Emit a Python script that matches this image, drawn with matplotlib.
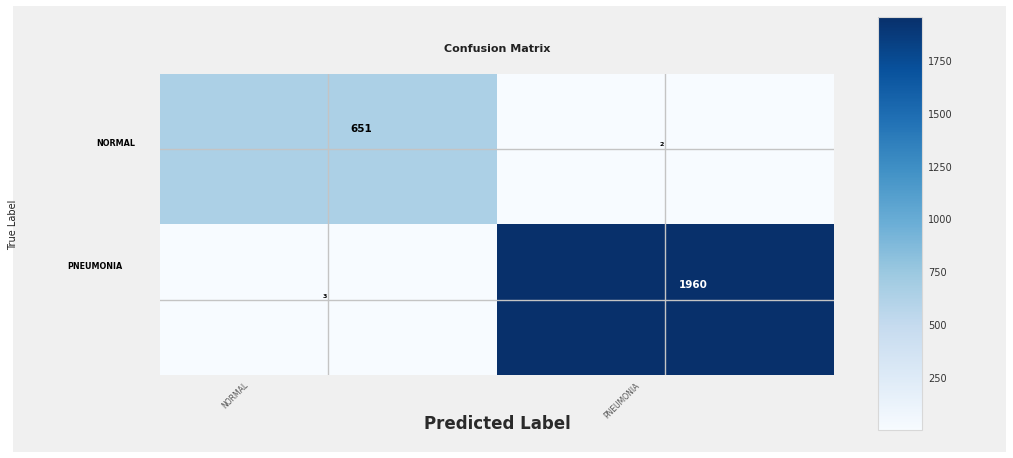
import matplotlib
matplotlib.use("Agg")
import matplotlib.pyplot as plt
import matplotlib.transforms as mtransforms
from matplotlib.patches import Rectangle
import numpy as np

# confusion matrix values
class_names = ["NORMAL", "PNEUMONIA"]
cm = np.array([[651, 2],
               [3, 1960]])
cbar_ticks = [250, 500, 750, 1000, 1250, 1500, 1750]

fig = plt.figure(figsize=(10.13, 4.58), dpi=100)
fig.patch.set_facecolor("white")
fig.patches.append(Rectangle((0.0128, 0.0131), 0.980, 0.974, transform=fig.transFigure,
                             facecolor="#f0f0f0", edgecolor="none", zorder=-10))

ax = fig.add_axes([0.158, 0.181, 0.665, 0.657])
cax = fig.add_axes([0.867, 0.061, 0.0434, 0.902])

im = ax.imshow(cm, cmap="Blues", aspect="auto", vmin=cm.min(), vmax=cm.max())
ax.set_xticks(range(len(class_names)))
ax.set_yticks(range(len(class_names)))
ax.tick_params(length=0, labelbottom=False, labelleft=False)
ax.grid(True, color="#c4c4c4", linewidth=1)
for s in ax.spines.values():
    s.set_visible(False)

ax.set_title("Confusion Matrix", fontsize=8, fontweight="bold", color="#222222", pad=16)
ax.set_xlabel("Predicted Label", fontsize=12, fontweight="bold", color="#2a2a2a", va="center")
ax.xaxis.set_label_coords(0.5, -0.163)
ax.set_ylabel("True Label", fontsize=7, color="#222222", va="center")
ax.yaxis.set_label_coords(-0.218, 0.498)

# row labels (y tick labels)
ylab_x = [-0.037, -0.056]
ylab_dy = [6, 33]
for i, name in enumerate(class_names):
    tr = mtransforms.blended_transform_factory(ax.transAxes, ax.transData)
    tr = mtransforms.offset_copy(tr, fig=fig, x=0, y=ylab_dy[i], units="dots")
    ax.text(ylab_x[i], i, name, transform=tr, ha="right", va="center",
            fontsize=5.8, fontweight="bold", color="black")

# column labels (x tick labels)
xlab_dx = [-82, -27]
for j, name in enumerate(class_names):
    tr = mtransforms.blended_transform_factory(ax.transData, ax.transAxes)
    tr = mtransforms.offset_copy(tr, fig=fig, x=xlab_dx[j], y=-9, units="dots")
    ax.text(j, 0, name, transform=tr, ha="right", va="center", rotation=45,
            rotation_mode="anchor", fontsize=5.5, color="#555555")

# cell annotations
offsets = {(0, 0): (33, 20), (0, 1): (-4, 5), (1, 0): (-4, 3), (1, 1): (28, 15)}
thresh = cm.max() / 2
for i in range(cm.shape[0]):
    for j in range(cm.shape[1]):
        dx, dy = offsets[(i, j)]
        tr = mtransforms.offset_copy(ax.transData, fig=fig, x=dx, y=dy, units="dots")
        size = 7.5 if cm[i, j] > 100 else 4.5
        ax.text(j, i, str(cm[i, j]), transform=tr, ha="center", va="center",
                fontsize=size, fontweight="bold",
                color="white" if cm[i, j] > thresh else "black")

cbar = fig.colorbar(im, cax=cax, ticks=cbar_ticks)
cbar.ax.tick_params(length=0, labelsize=7, labelcolor="#333333", pad=4)
cbar.outline.set_edgecolor("#d8d8d8")

fig.savefig("out.png", dpi=100)
